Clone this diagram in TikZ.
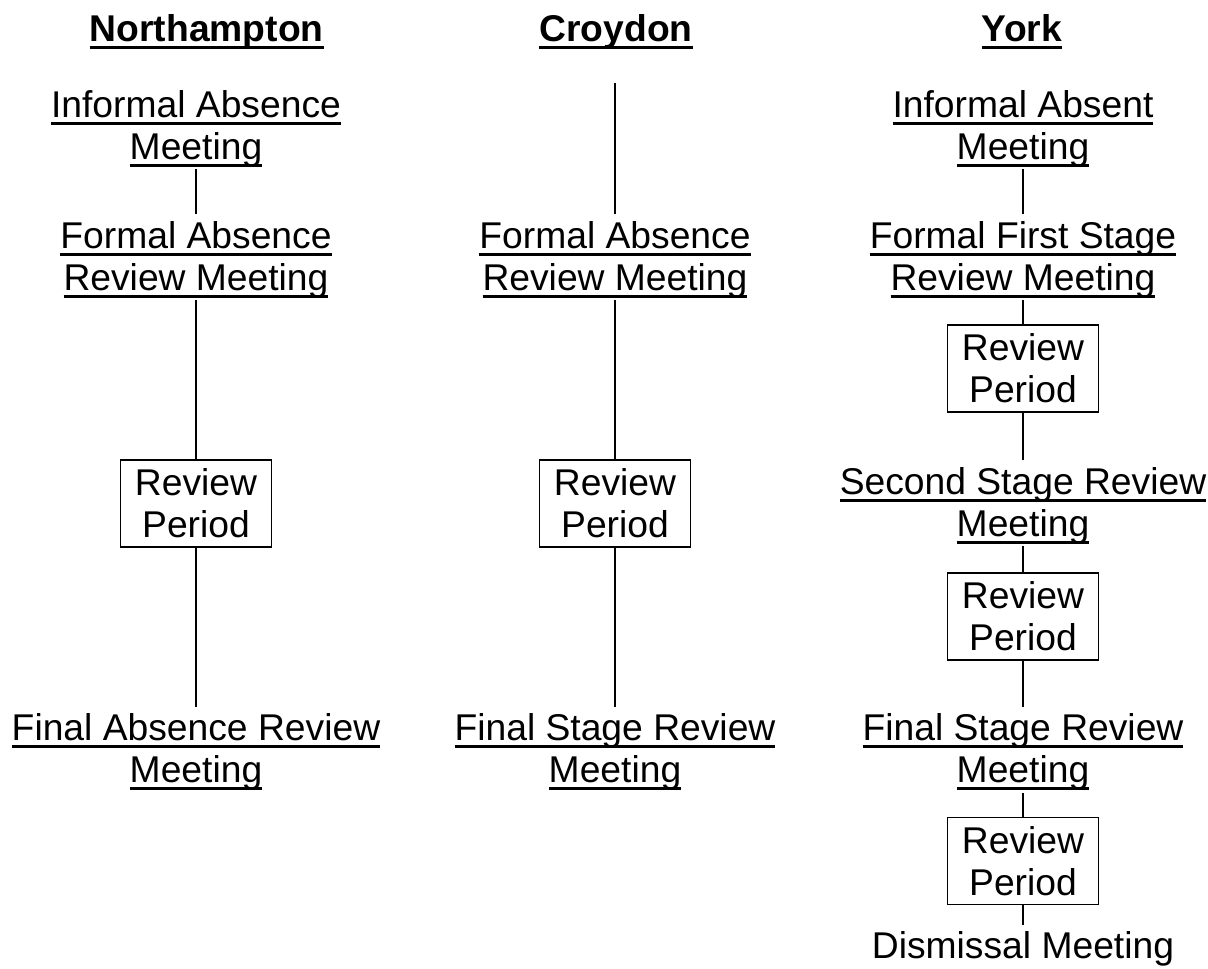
\documentclass[tikz,border=0pt]{standalone}
\usepackage{fontspec}
\setmainfont{Liberation Sans}
\usepackage{tikz}
\newcommand{\ulword}[1]{\leavevmode\setbox0=\hbox{#1}\rlap{\vrule height -0.12em depth 0.2em width \wd0}\box0}
\tikzstyle{stage} = [align=center, inner sep=0pt, outer sep=0pt,
  font=\fontsize{21.2}{24}\selectfont]
\tikzstyle{period} = [draw, line width=1pt, align=center, inner sep=0pt,
  minimum width=3.02cm, minimum height=1.74cm, font=\fontsize{21.2}{24}\selectfont]
\tikzstyle{heading} = [inner sep=0pt, anchor=base,
  font=\bfseries\fontsize{21.2}{24}\selectfont]
\tikzstyle{link} = [line width=1pt]
\tikzstyle{fromtext} = [shorten <=0.05cm]
\tikzstyle{totext} = [shorten >=0.14cm]

\begin{document}
\begin{tikzpicture}[x=0.02cm, y=-0.02cm]
  \useasboundingbox (0,0) rectangle (1208,968);
  % headings
  \node[heading] (headN) at (206.7, 41.7) {\ulword{Northampton}};
  \node[heading] (headC) at (616, 41.7) {\ulword{Croydon}};
  \node[heading] (headY) at (1022, 41.7) {\ulword{York}};
  % Northampton
  \node[stage] (informalN) at (196, 128.5) {\ulword{Informal Absence}\\\ulword{Meeting}};
  \node[stage] (formalN) at (196, 259.5) {\ulword{Formal Absence}\\\ulword{Review Meeting}};
  \node[period] (periodN) at (196, 503.5) {Review\\Period};
  \node[stage] (finalN) at (196, 752) {\ulword{Final Absence Review}\\\ulword{Meeting}};
  \draw[link, fromtext, totext] (informalN) -- (formalN);
  \draw[link, fromtext] (formalN) -- (periodN);
  \draw[link, totext] (periodN) -- (finalN);
  % Croydon
  \coordinate (topC) at (615, 83.3);
  \node[stage] (formalC) at (615, 259.5) {\ulword{Formal Absence}\\\ulword{Review Meeting}};
  \node[period] (periodC) at (615, 503.5) {Review\\Period};
  \node[stage] (finalC) at (615, 752) {\ulword{Final Stage Review}\\\ulword{Meeting}};
  \draw[link, totext] (topC) -- (formalC);
  \draw[link, fromtext] (formalC) -- (periodC);
  \draw[link, totext] (periodC) -- (finalC);
  % York
  \node[stage] (informalY) at (1023, 128.5) {\ulword{Informal Absent}\\\ulword{Meeting}};
  \node[stage] (formalY) at (1023, 259.5) {\ulword{Formal First Stage}\\\ulword{Review Meeting}};
  \node[period] (periodY1) at (1023, 368.5) {Review\\Period};
  \node[stage] (secondY) at (1023, 505.5) {\ulword{Second Stage Review}\\\ulword{Meeting}};
  \node[period] (periodY2) at (1023, 616.5) {Review\\Period};
  \node[stage] (finalY) at (1023, 752) {\ulword{Final Stage Review}\\\ulword{Meeting}};
  \node[period] (periodY3) at (1023, 861) {Review\\Period};
  \node[stage] (dismissY) at (1023, 949) {Dismissal Meeting};
  \draw[link, fromtext, totext] (informalY) -- (formalY);
  \draw[link, fromtext] (formalY) -- (periodY1);
  \draw[link, totext] (periodY1) -- (secondY);
  \draw[link, fromtext] (secondY) -- (periodY2);
  \draw[link, totext] (periodY2) -- (finalY);
  \draw[link, fromtext] (finalY) -- (periodY3);
  \draw[link, totext] (periodY3) -- (dismissY);
\end{tikzpicture}
\end{document}
